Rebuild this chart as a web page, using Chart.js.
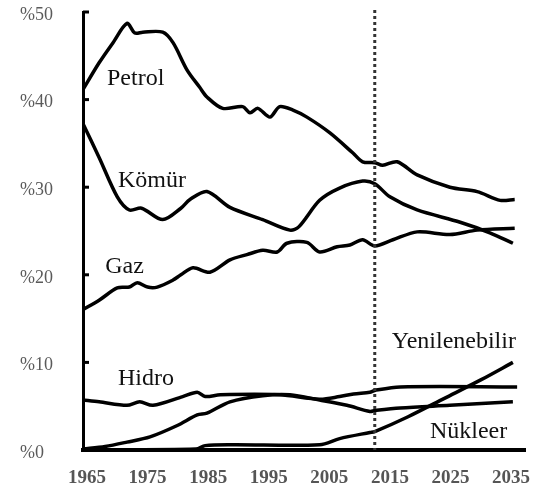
<!DOCTYPE html>
<html>
<head>
<meta charset="utf-8">
<script src="https://cdn.jsdelivr.net/npm/chart.js@4.4.0/dist/chart.umd.min.js"></script>
<style>
  html, body { margin: 0; padding: 0; background: #fff; }
  #wrap { width: 549px; height: 496px; }
</style>
</head>
<body>
<div id="wrap"><canvas id="energyChart" width="549" height="496"></canvas></div>
<script>
// tick labels
const yearTicks = [1965, 1975, 1985, 1995, 2005, 2015, 2025, 2035];
const percentTicks = [0, 10, 20, 30, 40, 50];
const forecastStart = 2012.5;

// series values (share of world energy, %)
const petrolYears  = [1964.3, 1967, 1969.3, 1971.6, 1972.9, 1974.2, 1977.5, 1979.2, 1981.5, 1983.6, 1984.8, 1987.4, 1990.7, 1991.9, 1993.2, 1995.2, 1996.8, 1999, 2001.3, 2005.1, 2008.9, 2010.5, 2012.5, 2013.8, 2016.2, 2019.5, 2024.9, 2029.4, 2033.2, 2035.6];
const petrolValues = [41.1, 44.2, 46.5, 48.7, 47.6, 47.7, 47.7, 46.5, 43.4, 41.4, 40.3, 39.0, 39.2, 38.5, 39.0, 38.0, 39.2, 38.8, 38.0, 36.2, 33.9, 32.9, 32.8, 32.5, 32.9, 31.4, 30.0, 29.5, 28.5, 28.6];

const komurYears  = [1964.3, 1967, 1970, 1972, 1974, 1977.5, 1980.5, 1982, 1984.8, 1988.6, 1994, 1998.5, 2000, 2003.4, 2006.7, 2010.5, 2012.5, 2015, 2019.5, 2026.6, 2031.5, 2035.3];
const komurValues = [37.3, 33.4, 28.9, 27.4, 27.6, 26.3, 27.6, 28.6, 29.5, 27.7, 26.3, 25.1, 25.5, 28.5, 29.9, 30.7, 30.4, 28.9, 27.4, 26.0, 24.8, 23.6];

const gazYears  = [1964.3, 1967, 1970, 1972, 1973.3, 1975, 1976.6, 1979.2, 1980.5, 1982.5, 1985.3, 1988.6, 1991.4, 1994, 1996.4, 1998, 2001.3, 2003.4, 2006.3, 2008.4, 2010.5, 2012.5, 2015.5, 2019.5, 2024.9, 2029.4, 2035.6];
const gazValues = [16.0, 17.1, 18.5, 18.6, 19.1, 18.6, 18.6, 19.4, 20.0, 20.8, 20.3, 21.7, 22.3, 22.8, 22.6, 23.6, 23.7, 22.6, 23.2, 23.4, 24.0, 23.3, 24.0, 24.9, 24.6, 25.1, 25.3];

const hidroYears  = [1964.3, 1967, 1971.6, 1973.7, 1975.9, 1980.8, 1983.2, 1984.5, 1987, 1996.8, 2003.4, 2006.7, 2009, 2011.7, 2012.5, 2016.7, 2036];
const hidroValues = [5.7, 5.5, 5.1, 5.5, 5.1, 6.1, 6.6, 6.1, 6.3, 6.3, 5.8, 6.1, 6.4, 6.6, 6.8, 7.2, 7.2];

const nukleerYears  = [1964.3, 1968, 1971.6, 1975.4, 1979.9, 1983.2, 1984.8, 1988.6, 1994, 1998.5, 2003.4, 2007.9, 2011.7, 2012.5, 2016.7, 2024.9, 2035.3];
const nukleerValues = [0.1, 0.4, 0.9, 1.5, 2.8, 4.0, 4.2, 5.5, 6.2, 6.3, 5.7, 5.1, 4.4, 4.5, 4.8, 5.1, 5.5];

const yenilenebilirYears  = [1964.3, 1983, 1984.5, 1989, 2003.4, 2006.7, 2011.7, 2012.5, 2018, 2024, 2030, 2035.3];
const yenilenebilirValues = [0, 0.1, 0.5, 0.6, 0.6, 1.3, 2.0, 2.1, 3.8, 5.9, 8.0, 10.0];

const seriesNames = ['Petrol', 'Kömür', 'Gaz', 'Hidro', 'Yenilenebilir', 'Nükleer'];
const seriesYears = [petrolYears, komurYears, gazYears, hidroYears, yenilenebilirYears, nukleerYears];
const seriesValues = [petrolValues, komurValues, gazValues, hidroValues, yenilenebilirValues, nukleerValues];

// where each name is written on the plot (year, value of the text baseline)
const labelYears = [1968.3, 1970.1, 1968.0, 1970.1, 2015.3, 2021.6];
const labelValues = [41.7, 30.0, 20.2, 7.4, 11.6, 1.4];

const serif = '"Liberation Serif", "DejaVu Serif", serif';

const decorations = {
    id: 'decorations',
    afterDatasetsDraw(chart) {
        const { ctx, chartArea, scales: { x, y } } = chart;
        ctx.save();

        // dotted line at start of projection
        const fx = x.getPixelForValue(forecastStart);
        ctx.strokeStyle = '#333';
        ctx.lineWidth = 3;
        ctx.setLineDash([3, 3]);
        ctx.beginPath();
        ctx.moveTo(fx, chartArea.top - 2);
        ctx.lineTo(fx, chartArea.bottom);
        ctx.stroke();
        ctx.setLineDash([]);

        // tick marks pointing into the plot
        ctx.strokeStyle = '#000';
        ctx.lineWidth = 3;
        percentTicks.forEach(v => {
            const py = y.getPixelForValue(v);
            ctx.beginPath();
            ctx.moveTo(chartArea.left, py);
            ctx.lineTo(chartArea.left + 6, py);
            ctx.stroke();
        });

        // series names
        ctx.fillStyle = '#111';
        ctx.font = '24px ' + serif;
        ctx.textAlign = 'left';
        ctx.textBaseline = 'alphabetic';
        seriesNames.forEach((name, i) => {
            ctx.fillText(name, x.getPixelForValue(labelYears[i]), y.getPixelForValue(labelValues[i]));
        });
        ctx.restore();
    }
};

const ctx = document.getElementById('energyChart').getContext('2d');
const chart = new Chart(ctx, {
    type: 'line',
    data: {
        datasets: seriesNames.map((name, i) => ({
            label: name,
            data: seriesYears[i].map((yr, j) => ({ x: yr, y: seriesValues[i][j] })),
            borderColor: '#000',
            borderWidth: 3.5,
            pointRadius: 0,
            tension: 0.3,
            fill: false
        }))
    },
    options: {
        responsive: false,
        animation: false,
        layout: { padding: { left: 20, top: 12, right: 24, bottom: 0 } },
        plugins: {
            legend: { display: false },
            tooltip: { enabled: false }
        },
        scales: {
            x: {
                type: 'linear',
                min: 1964.34,
                max: 2037.3,
                afterBuildTicks: scale => { scale.ticks = yearTicks.map(v => ({ value: v })); },
                afterFit: scale => { scale.height = 46; },
                grid: { drawOnChartArea: false, drawTicks: false },
                border: { color: '#000', width: 4 },
                ticks: {
                    color: '#555',
                    font: { family: serif, size: 19, weight: 'bold' },
                    padding: 17,
                    autoSkip: false,
                    maxRotation: 0,
                    callback: v => String(v)
                }
            },
            y: {
                min: 0,
                max: 50,
                afterBuildTicks: scale => { scale.ticks = percentTicks.map(v => ({ value: v })); },
                afterFit: scale => { scale.width = 63; },
                grid: { drawOnChartArea: false, drawTicks: false },
                border: { color: '#000', width: 3 },
                ticks: {
                    color: '#5a5a5a',
                    font: { family: serif, size: 18 },
                    crossAlign: 'far',
                    labelOffset: 3,
                    padding: 0,
                    callback: v => '%' + v
                }
            }
        }
    },
    plugins: [decorations]
});
</script>
</body>
</html>
